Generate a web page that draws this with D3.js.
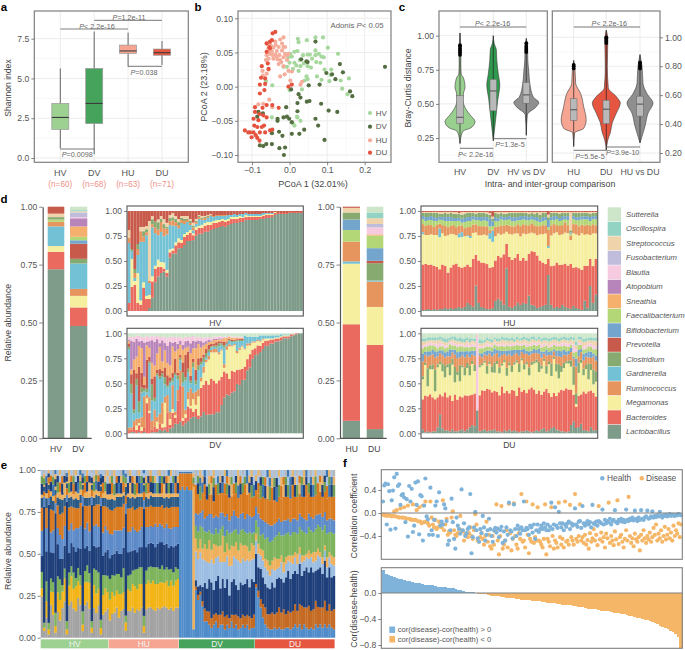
<!DOCTYPE html>
<html><head><meta charset="utf-8"><script src="https://cdn.jsdelivr.net/npm/d3@7"></script>
<style>html,body{margin:0;padding:0;background:#fff}svg{display:block}</style></head><body>
<script>
// ---------- panel a
const alphaCats=["HV","DV","HU","DU"];
const alphaN=["(n=60)","(n=68)","(n=63)","(n=71)"];
const alphaLow=[0.6,0.23,5.75,5.85];
const alphaQ1=[1.8,2.16,6.58,6.46];
const alphaMed=[2.55,3.43,6.73,6.62];
const alphaQ3=[3.43,5.63,7.1,6.85];
const alphaHigh=[5.63,7.95,7.88,7.35];
const groupFill=["#9dd192","#46a35c","#f6a592","#e5553f"];
// ---------- panel b (PCoA x 1000)
const hvX=[22,24,46,69,89,102,129,21,13,2,6,-3,0,13,27,29,38,48,54,69,69,71,82,85,57,24,-7,-16,93,111,73,85,106,136,158,140,154,45,48,40,-63,-46,33,0,20,21,-47,9,13,29,18,48,78,91,36,60,109,9];
const hvY=[70,65,68,72,72,57,48,52,51,48,44,43,35,35,39,30,34,47,47,53,46,36,35,44,28,23,29,29,25,25,15,10,8,9,12,-3,-11,15,11,9,8,2,-4,-5,-44,-45,-45,-54,-57,-50,31,30,48,43,46,41,17,26];
const dvX=[69,48,45,31,134,98,113,142,122,254,80,51,4,161,167,29,21,46,53,84,-9,21,104,127,69,76,-16,-1,-32,-32,39,26,6,-28,-47,-19,93,-62,-79,-70,-47,-27,-12,-15,-83,-71,-86,-7,24,6];
const dvY=[66,36,37,40,33,20,18,21,11,29,3,2,-4,-7,-14,-16,-24,-22,-21,-25,-30,-36,-35,-37,-47,-57,-45,-47,-47,-50,-63,-69,-69,-66,-68,-72,-78,-84,-86,-87,-84,-90,-89,-100,-37,-39,-44,-44,-11,-52];
const huX=[-16,-25,-38,-52,-61,-20,-29,-43,-56,-47,-34,-20,-12,-52,-38,-27,-16,-56,-43,-32,-22,-7,-29,-16,-3,6,-13,-25,-56,-72,-71,-61,-54,-47,-63,-37,-25,29,-70,-54,-46,33,2,-83,-45,-34,-12,-3,-7,-61,-16];
const huY=[72,69,66,62,64,63,58,57,56,51,52,53,48,48,47,46,43,41,41,40,36,39,33,30,23,22,18,15,25,23,16,19,53,58,39,61,39,3,-25,-19,-30,7,9,-26,46,44,58,48,46,46,58];
const duX=[-38,-45,-47,-61,-52,-61,-74,-56,-76,-65,-79,-65,-79,-67,6,-3,-92,-72,-61,-46,-29,-92,-80,-96,-83,-70,-61,-94,-86,-68,-52,-46,-119,-105,-96,-90,-101,-86,-80,-74,-65,-79,-110,-54,-52,-58];
const duY=[80,78,68,63,56,51,30,26,13,12,3,4,-10,-5,3,0,-30,-31,-27,-27,-31,-37,-40,-47,-49,-42,-45,-57,-59,-57,-64,-63,-64,-67,-67,-71,-74,-75,-79,-59,-67,-67,-67,58,66,34];
// ---------- panel c: [distance, density]
const violinHV=[[.21,0],[.24,.5],[.30,3],[.325,11],[.37,15],[.42,10],[.46,6],[.53,3],[.58,3.5],[.62,5],[.69,3.5],[.72,1.2],[.8,.8],[.88,1],[.95,.6],[1.02,0]];
const violinDV=[[.23,0],[.33,1.5],[.43,3],[.53,4.5],[.64,6.5],[.72,5],[.82,3.5],[.9,3],[.94,1],[1.0,0]];
const violinHVDV=[[.27,0],[.42,1],[.48,10],[.51,12.5],[.55,7],[.65,3.5],[.735,2.5],[.82,1.5],[.9,1.3],[.98,0]];
const violinHU=[[.245,0],[.34,1],[.37,10],[.43,12.5],[.52,10],[.61,7],[.68,2],[.775,1.3],[.84,0]];
const violinDU=[[.22,0],[.29,1.5],[.34,4],[.41,6],[.475,10],[.545,14],[.59,10],[.65,2],[.8,1],[.98,1.5],[1.05,0]];
const violinHUDU=[[.27,0],[.315,2],[.385,5],[.475,8],[.545,13],[.61,7],[.68,3],[.8,2],[.88,0]];
const boxHV=[.358,.402,.561], boxDV=[.449,.595,.68], boxHVDV=[.505,.566,.658];
const boxHU=[.425,.499,.575], boxDU=[.402,.503,.565], boxHUDU=[.455,.538,.593];
const outHV=[.86,.875,.89,.905,.92,.93], outHVDV=[.88,.895,.91,.925,.945];
const outHU=[.785,.80,.81], outDU=[.96,.975,.99,1.0], outHUDU=[.785,.80,.815,.825];
// ---------- panel d
const genera=["Sutterella","Oscillospira","Streptococcus","Fusobacterium","Blautia","Atopobium","Sneathia","Faecalibacterium","Bifidobacterium","Prevotella","Clostridium","Gardnerella","Ruminococcus","Megamonas","Bacteroides","Lactobacillus"];
const generaColor=["#cde6ca","#93d3c3","#efd3ab","#bfbcdc","#f7cbdf","#b885ba","#f5b06e","#b3d676","#74a5cc","#c85a4b","#86aa70","#72c1d4","#e6955f","#f5ef9f","#ea6a5f","#7f9c8a"];
const meanHVKeys=["Lactobacillus","Bacteroides","Megamonas","Gardnerella","Ruminococcus","Faecalibacterium","Clostridium","Streptococcus","Prevotella"];
const meanHV=[73,7.5,2.5,8.5,2,1,1,1.5,3];
const meanDVKeys=["Lactobacillus","Bacteroides","Megamonas","Ruminococcus","Gardnerella","Clostridium","Prevotella","Bifidobacterium","Faecalibacterium","Sneathia","Atopobium","Blautia","Fusobacterium","Streptococcus","Oscillospira","Sutterella"];
const meanDV=[48.5,8,5,3,11,2,6.5,1.5,1.5,4.5,3.5,.5,2,.5,.5,1.5];
const meanHUKeys=["Lactobacillus","Bacteroides","Megamonas","Gardnerella","Ruminococcus","Faecalibacterium","Bifidobacterium","Clostridium","Streptococcus","Prevotella"];
const meanHU=[7.5,41.5,26,1,8.5,5,4.5,3,2,.5];
const meanDUKeys=["Lactobacillus","Bacteroides","Megamonas","Ruminococcus","Gardnerella","Clostridium","Prevotella","Bifidobacterium","Faecalibacterium","Sneathia","Blautia","Fusobacterium","Streptococcus","Oscillospira","Sutterella"];
const meanDU=[4,36.5,16.5,11,.5,7.5,1,5.5,5.5,.5,3,1.5,2.5,2.5,2.5];
const hvLacto=[0,0,0,0,0,0,0,3,13,30,37,38,39,35,53,55,57,62,63,66,70,70,73,76,78,78,80,80,81,82,83,84,85,85,86,87,88,88,89,89,90,91,91,91,91,93,92,93,94,95,96,97,97,97,97,98,98,98,98,98];
const hvBact=[8,24,26,8,6,22,12,9,16,14,10,6,3,4,5,3,8,6,5,8,6,8,5,6,6,6,6,7,5,6,5,5,5,5,4,5,4,4,4,4,3,3,3,3,3,2,3,3,3,2,2,1,1,1,1,1,1,1,1,1];
const hvMega=[0,28,4,30,4,5,3,4,5,3,8,5,6,3,3,2,3,4,3,3,3,3,2,3,2,3,3,3,3,2,3,2,2,2,2,2,2,2,2,1,2,1,1,1,1,1,1,1,1,1,1];
const hvGard=[60,8,3,18,55,38,60,12,48,34,26,30,26,36,24,22,16,10,17,10,10,5,3,3,7,5,3,4,6,4,4,4,3,4,4,2,3,2,2,3,2,2,2,2,2,2,2,1,1,1];
const hvRumi=[5,0,5,6,10,5,3,2,3,6,6,10,8,6,4,5,4,3,3,3,2,2,3,2,2,1,2,1,1,1,1,1,1,1];
const hvClos=[0,2,4,5,0,5,3,0,5,6,8,3,4,2,3,3,3,3,2,2,1,2,2,1,1,1,1,1];
const hvStre=[8,0,0,0,4,4,3,60,3,0,3,3,5,4,3,4,3,3,2,3,3,2,3,2,1,2,1,1,1];
const hvPrev=[19,38,58,33,15,15,15,10,5,11,9,5,8,12,4,2,5,8,5,5,5,8,12,8,4,5,5,4,3,5,4,4,4,4,4,4,3,4,3,3,2,3,3,3,3,3,2,2,2,2,1,2,2,2,2,1,1,1,1,1];
const dvLacto=[0,1,1,0,1,0,1,0,0,1,1,1,3,2,3,1,4,5,8,7,9,6,9,10,12,13,12,12,13,14,14,15,16,17,19,21,28,30,33,35,37,39,42,44,48,50,56,60,64,68,72,78,80,83,85,87,88,89,90,92,93,94,95,96,98,99,100,100];
const dvBact=[2,2,4,3,6,2,3,25,18,2,5,3,5,3,2,16,3,12,5,18,28,4,5,12,8,4,6,3,22,18,26,24,30,30,26,32,28,22,18,15,20,18,12,14,10,12,10,12,8,6,8,6,6,5,5,4,4,3,3,3,2,2,2,2,1,1];
const dvMega=[0,0,0,4,2,3,0,4,2,0,0,6,0,3,20,0,5,3,2,0,0,2,3,6,2,10,3,16,5,8,14,20,22,25,28,26,26,3,20,30,22,25,14,18,20,16,12,8,6,5,4,4,3,2,2,1,1,1,1,1,1,1,1];
const dvRumi=[3,2,5,6,4,8,24,3,12,8,16,4,8,18,5,14,6,20,3,8,12,25,4,6,14,5,10,6,3,4,2,3,2,3,3,2,1,3,3,2,1,1,2,2,1,1,2,2,1,1,1,1,1];
const dvGard=[70,28,6,30,5,20,4,2,30,18,8,35,28,22,10,6,24,3,30,8,8,3,26,16,4,20,5,16,10,3,2,3,2,2,1,6,4,14,2,3,3,2,8,6,4,12,6,6,4,4,3,5,3,3,3,3,3,2,2,2,1,1,1];
const dvClos=[2,8,3,6,10,4,2,3,2,14,3,2,2,3,6,2,2,3,2,3,2,8,3,3,2,4,3,4,2,3,3,2,1,1,2,3,2,2,1,1,1,1,1,1,1];
const dvPrev=[3,8,32,5,30,12,3,24,4,5,20,3,6,2,8,8,3,4,12,2,2,8,20,14,4,3,8,6,3,2,3,4,2,2,3,2,2,3,1,1,1,1,1,1,1];
const dvSnea=[2,4,8,15,18,20,6,12,8,14,10,14,18,8,14,10,10,22,6,18,8,10,6,4,18,8,16,12,8,6,4,2,2,3,2,2,2,3,3,2,2,2,1,1,1];
const dvAtop=[1,24,14,16,4,6,26,3,6,20,22,12,3,18,6,14,20,3,8,4,3,4,6,5,8,6,5,3,5,2,2,2,1,1,1,1,1];
const dvBlau=[3,3,4,3,5,3,4,5,4,4,5,3,5,3,5,6,4,5,4,5,3,5,4,3,5,4,3,3,3,3,3,2,2,2,2,2,2,1,1,1,1,1,1,1,1];
const dvSutt=[3,3,3,2,2,3,3,2,3,2,3,2,3,3,3,4,3,3,3,3,3,4,3,3,3,2,3,3,3,3,3,3,4,3,3,3,3,3,3,2,3,3,3,3,3,2,3,3,3,3,3,2,2,2,2,2,2,2,2,1,1,1,1,1,1];
const huLacto=[1,1,2,1,2,1,2,2,3,2,3,2,3,4,3,4,8,6,4,25,8,4,3,2,2,3,10,12,10,6,43,4,3,5,8,6,8,7,15,6,5,3,4,5,6,40,6,3,4,3,6,4,3,2,5,3,2,1,10,3,25,8,16];
const huBact=[45,46,44,45,43,43,41,44,42,36,41,44,44,41,42,40,38,38,46,30,42,44,44,44,43,44,40,42,42,49,25,48,47,47,48,44,44,43,41,52,53,52,46,43,40,18,38,42,44,43,40,42,42,42,38,40,40,38,34,40,27,36,35];
const huMega=[30,29,30,30,31,32,33,31,30,37,34,30,28,30,32,30,28,29,25,22,25,27,28,28,30,27,24,22,22,20,12,22,25,24,20,24,24,26,20,18,18,20,26,28,30,12,30,32,30,30,30,30,32,22,34,32,32,35,30,30,24,32,25];
const huGard=[2,0,0,0,0,0,9,0,0,0,0,0,0,4,5,0,1,2,0,0,0,0,0,0,6,12,0,0,0,0,0,0,0,0,0,0,0,0,0,0,0,0,0,0,0,2];
const huRumi=[8,9,10,9,8,10,5,8,10,8,8,9,8,8,7,8,8,9,8,8,9,9,8,9,3,1,9,7,9,8,7,8,8,7,9,10,9,9,8,9,8,9,8,9,8,18,10,9,7,9,9,10,8,4,9,10,9,8,9,9,9,9,8];
const huFaec=[5,5,5,5,6,4,4,5,5,6,5,4,6,5,3,6,6,6,5,4,6,5,6,5,4,4,6,5,6,5,5,6,5,5,4,6,5,5,5,4,5,5,4,4,5,3,5,4,6,5,5,3,5,2,5,4,6,5,6,5,5,5,6];
const huBifi=[3,4,3,4,4,3,3,3,4,4,4,3,3,3,4,4,4,4,3,3,3,4,3,4,8,5,4,3,3,3,3,3,4,4,3,4,3,4,3,3,3,4,3,4,3,8,3,4,3,3,4,3,4,1,3,3,3,3,3,3,4,3,3];
const huClos=[3,4,4,3,4,5,3,3,4,3,4,4,4,4,4,4,4,4,3,3,4,4,4,3,4,3,4,4,3,3,3,3,4,4,4,3,3,3,3,3,3,4,4,4,4,3,4,3,3,4,3,3,3,2,3,4,4,3,3,3,3,3,3];
const huStre=[1,1,1,1,1,1,2,2,1,2,1,2,2,1,3,2,1,1,1,2,1,1,1,2,2,2,1,2,1,2,2,1,1,1,1,1,1,1,2,1,2,1,3,1,1,3,1,1,1,2,1,1,1,17,1,1,1,1,1,1,2,1,1];
const huPrev=[1,1,1,1,1,1,1,1,1,1,1,1,1,2,1,1,1,1,1,1,1,1,1,1,2,6,1,1,1,1,1,1,1,1,1,1,1,1,1,1,1,1,1,1,1,4,1,1,1,1,1,1,1,1,1,1,1,1,1,1,1,1,1];
const duLacto=[4,1,2,1,2,2,6,19,5,3,3,2,4,2,2,3,4,2,4,6,8,7,23,2,3,4,2,3,3,4,2,2,1,3,2,4,2,3,2,1,2,2,3,2,1,2,3,2,4,5,2,3,5,6,4,3,2,2,1,2,8,12,4,6,9,3,3,2,6,3,3];
const duBact=[30,36,35,38,34,32,30,20,32,38,33,36,28,36,32,34,32,36,34,32,30,32,0,36,40,38,42,40,38,38,40,36,44,36,40,36,42,38,34,44,38,40,36,42,44,40,35,40,34,36,42,36,30,32,34,38,42,40,44,40,34,26,16,30,28,36,36,40,36,35,32];
const duMega=[20,30,10,25,28,8,30,30,25,15,30,20,36,12,25,15,30,20,28,20,30,22,0,28,25,28,15,25,20,18,28,22,20,30,15,28,18,25,32,15,30,20,28,14,22,25,30,18,26,30,15,28,20,32,25,14,18,22,25,25,22,10,2,22,30,15,24,12,20,8,14];
const duClos=[3,2,18,4,5,22,3,3,8,12,3,12,6,15,3,16,2,8,5,10,3,6,0,2,2,2,8,2,6,10,3,6,2,2,8,3,6,2,2,8,2,5,2,8,3,2,3,10,3,2,8,3,12,2,8,14,6,5,2,3,6,18,8,10,3,6,4,16,6,14,10];
const duRumi=[15,8,12,10,10,12,8,8,8,8,8,7,6,12,14,8,10,10,8,8,6,9,0,10,6,6,10,8,10,8,8,10,8,6,12,8,10,8,7,8,6,10,8,12,8,8,6,8,8,5,10,6,8,5,8,8,9,8,6,6,8,8,20,6,7,8,8,6,6,12,10];
const duBifi=[8,3,5,4,5,6,5,3,5,5,5,7,3,5,6,6,4,6,4,6,4,5,0,2,4,3,5,3,5,6,3,7,4,3,5,4,6,4,3,6,2,5,3,4,3,4,3,5,6,2,6,3,4,2,5,6,6,5,4,3,4,2,6,6,3,6,4,6,6,3,5];
const duFaec=[5,5,5,6,4,5,3,4,4,4,4,5,4,4,5,5,5,4,4,4,4,4,0,5,5,4,4,4,4,4,4,4,5,4,5,4,4,4,5,4,4,4,4,5,5,4,4,4,4,5,4,4,4,4,5,4,5,4,5,4,3,4,5,5,4,4,4,5,5,4,6];
const duBlau=[3,2,3,3,2,3,4,4,2,3,2,2,3,2,3,2,2,2,4,2,3,2,76,2,2,2,3,2,2,2,2,2,3,2,2,2,3,2,2,2,2,2,3,2,3,2,3,2,3,3,2,2,3,2,3,2,3,3,3,3,2,8,2,2,2,3,3,3,3,4,3];
const duStre=[4,3,3,2,3,3,4,3,3,3,3,2,3,3,3,3,2,3,3,3,3,3,0,3,3,3,3,3,3,3,3,3,3,4,3,3,3,2,3,3,3,3,3,3,3,3,2,3,3,3,3,4,3,3,3,3,3,3,3,3,3,4,3,3,3,4,4,3,3,4,5];
const duOsci=[3,3,3,3,3,3,3,3,4,4,4,3,3,4,3,4,4,4,3,4,2,3,0,4,3,3,3,3,3,2,3,3,3,3,3,3,3,3,3,2,3,3,3,3,3,3,2,3,3,3,3,3,3,3,3,3,3,3,3,3,3,3,3,3,3,3,3,3,3,3,3];
const duSutt=[5,5,4,4,4,4,4,3,4,5,5,4,3,3,5,4,5,5,4,5,5,5,1,6,7,6,4,5,6,4,5,5,3,4,4,5,4,5,3,5,4,3,4,5,3,3,5,3,5,4,4,5,4,3,4,5,4,3,4,4,3,4,6,3,3,5,5,4,4,4,4];
// ---------- panel e
const taxaColor={grey:"#a3a3a3",amber:"#f2b416",green:"#7db35b",navy:"#1f3f7a",steel:"#5d8ac8",ltblue:"#9cbde2",orange:"#d97a1f",sand:"#eeb05a",base:"#4f8cc9",brown:"#c56a22",dark:"#2c5a86"};
const speckleColor=["#1f3f7a","#6f9e52","#e8b46a","#a9c4e3","#b8b8b8","#3f78b0","#d9781f"];
const eGroups=["HV","HU","DV","DU"];
const eHvGrey=[25,4,12,2,20,14,3,16,10,18,22,2,20,22,18,16,24,20,4,20,22,18,3,18,15,20,2,14,16,18];
const eHvAmber=[5,2,10,3,8,14,4,12,12,10,14,3,12,15,12,15,10,12,4,14,12,16,3,14,12,10,4,12,14,10];
const eHvGreen=[10,3,12,4,8,6,8,10,12,4,6,5,8,6,10,5,8,6,8,7,10,6,4,10,14,10,5,12,8,10];
const eHvNavy=[10,70,18,72,16,18,60,20,12,16,14,72,12,14,16,16,12,16,64,14,12,14,70,14,14,16,70,12,14,16];
const eHvSteel=[15,6,14,4,12,14,6,10,14,12,12,4,14,12,10,14,12,14,6,12,14,12,5,12,14,12,5,14,16,12];
const eHvOrange=[14,3,12,5,14,12,5,14,12,16,12,4,14,10,14,12,12,14,4,14,10,16,4,12,12,14,4,16,12,14];
const eHvDark=[6,3,6,3,8,6,3,5,9,8,5,3,6,6,5,6,5,5,3,5,5,5,3,5,6,5,3,5,5,5];
const eHvSand=[2,1,3,1,3,3,2,3,4,3,3,1,3,3,3,4,4,3,1,3,4,3,1,4,3,3,1,3,4,3];
const eHvMix=[15,9,14,8,13,16,10,14,13,15,14,7,14,13,15,13,14,12,8,14,13,14,8,13,12,13,9,14,13,15];
const eHuGrey=[10,14,15,18,12,16,17,4,16,16,18,15,17,16,18,3,17,18,18,17,16,18,17,18,19,18,17,18,16,18,18];
const eHuAmber=[12,13,10,10,14,10,10,5,13,12,14,16,12,16,14,4,15,16,14,17,16,14,16,15,14,16,14,16,15,16,17];
const eHuGreen=[12,10,12,10,12,10,14,4,8,10,8,10,12,10,10,6,8,8,10,8,10,10,8,10,8,8,10,7,8,8,6];
const eHuNavy=[12,12,13,14,12,14,12,60,14,14,12,12,10,12,12,64,14,14,14,14,12,14,16,14,15,14,13,14,15,13,15];
const eHuSteel=[14,12,14,12,14,14,12,6,12,12,14,12,12,10,12,5,12,10,10,10,14,10,11,10,10,12,12,10,12,11,10];
const eHuOrange=[14,14,13,14,14,14,14,5,14,14,12,12,14,14,12,5,12,12,12,12,10,12,10,12,12,10,12,13,12,12,12];
const eHuDark=[6,7,5,6,6,6,5,5,7,6,6,7,7,6,6,4,6,5,6,6,6,6,6,5,6,6,6,6,6,6,6];
const eHuSand=[3,3,3,2,2,2,2,2,2,3,2,2,2,2,2,1,2,3,2,2,2,2,2,2,2,2,3,2,2,2,2];
const eHuMix=[14,14,15,14,14,14,13,8,14,14,14,15,14,14,14,8,14,14,13,14,14,14,14,14,15,14,14,14,14,14,14];
const eDvBase=[88,90,88,90,88,88,5,30,22,26,18,10,10,8,6,8,10,6,8,8,5,8,6,10,6,8,5,6,8,6,8,5,6,6];
const eDvBrown=[0,0,0,0,0,0,0,2,3,2,3,8,6,8,6,6,5,8,6,8,8,6,6,4,8,6,8,6,6,7,6,8,6,8];
const eDvNavy=[0,0,0,0,0,0,0,4,5,4,8,16,14,20,22,15,20,24,16,20,18,22,14,20,22,18,16,22,18,20,22,18,24,20];
const eDvLtblue=[0,0,0,0,0,0,0,18,16,20,16,14,16,10,14,16,14,12,16,10,16,14,18,10,14,16,18,12,16,14,12,16,12,14];
const eDvSand=[0,0,0,0,0,0,85,8,6,8,6,10,8,14,6,12,8,6,10,16,6,8,10,12,6,10,6,12,8,10,8,6,10,8];
const eDvGreen=[0,0,0,0,0,0,0,8,10,8,12,8,10,6,10,6,10,8,10,6,10,8,10,8,10,8,10,8,10,8,8,12,6,8];
const eDvSteel=[0,0,0,0,0,0,0,8,10,8,10,8,10,10,12,10,8,10,10,8,12,10,8,10,12,8,10,10,10,8,12,10,10,10];
const eDvOrange=[10,8,10,8,10,10,2,10,12,8,10,14,10,12,12,10,12,14,12,12,14,12,14,12,10,14,12,12,12,14,12,14,12,12];
const eDvMix=[2,2,2,2,2,2,8,17,14,18,13,16,18,15,15,19,16,15,14,14,15,15,17,16,15,14,17,15,14,16,15,14,17,16];
const eDuBase=[30,24,18,12,8,6,5,5,6,5,6,5,5,6,6,5,6,8,6,8,5,8,6,5,6,5,8,6,8,6,8,6,8,6,5];
const eDuBrown=[2,4,5,8,10,8,9,10,8,10,12,10,12,8,10,10,10,12,10,12,14,10,12,14,10,12,14,12,10,12,14,10,12,10,12];
const eDuNavy=[18,14,18,16,14,16,15,18,16,20,18,20,16,22,24,20,22,20,22,24,18,22,24,20,26,22,18,22,24,20,24,20,22,20,20];
const eDuLtblue=[8,8,8,10,10,10,8,8,10,6,6,10,6,8,6,10,6,8,6,6,8,6,6,8,6,6,6,8,6,6,6,6,6,8,6];
const eDuSand=[4,6,4,6,5,6,6,5,8,6,5,4,6,4,3,4,5,3,6,4,4,3,2,5,2,6,5,4,3,4,3,6,3,5,5];
const eDuGreen=[8,10,8,10,12,14,14,12,12,14,16,12,16,14,14,12,14,12,12,12,15,14,12,14,14,12,14,14,15,16,12,14,12,14,14];
const eDuSteel=[8,8,10,8,10,8,10,9,8,8,8,8,9,8,8,8,8,8,8,8,8,8,8,8,8,8,8,6,8,8,8,8,8,8,8];
const eDuOrange=[10,12,12,14,14,15,15,14,14,12,13,14,14,14,13,14,13,13,14,12,12,13,14,12,12,13,12,12,13,12,12,13,13,13,14];
const eDuMix=[12,14,17,16,17,17,18,19,18,19,16,17,16,16,16,17,16,16,16,14,16,16,16,14,16,16,15,14,13,16,13,17,16,16,16];
// top of each column in panel e: three short segments, indices into speckleColor
const eSpeckA=[0,1,0,6,0,5,0,1,6,0,2,0,1,0,6,0,5,1,0,6,0,2,0,1,5,0,0,6,1,0, 0,6,1,0,5,0,6,1,0,2,0,1,6,0,5,0,1,6,0,0,5,1,0,6,2,0,1,0,5,6,0, 5,5,5,5,5,5,1,6,0,1,5,6,0,1,2,0,6,1,0,5,6,1,0,2,6,1,5,0,1,6,2,0,1,5, 0,6,1,5,0,2,1,6,0,5,1,6,2,0,1,5,6,0,1,2,5,0,6,1,0,5,1,6,2,0,1,6,5,0,1];
const eSpeckB=[1,2,5,0,6,1,2,0,3,6,0,5,2,6,1,3,0,2,5,1,6,0,3,2,1,6,5,0,2,3, 2,1,3,6,0,2,1,5,3,0,6,2,0,5,1,3,2,0,6,1,2,3,5,1,0,6,2,3,1,0,2, 3,3,3,3,3,3,2,3,1,5,2,0,3,2,6,1,3,5,2,0,3,6,2,1,3,0,2,6,3,1,5,2,0,3, 2,3,0,1,6,3,5,2,1,0,3,2,6,1,3,5,0,2,3,6,1,2,0,3,5,2,1,3,6,2,0,3,1,5,2];
const eSpeckC=[3,4,3,2,3,4,5,3,2,3,4,3,2,3,4,2,3,5,4,3,2,3,4,3,2,4,3,3,4,2, 3,4,2,3,3,4,5,3,4,2,3,3,4,2,3,5,3,4,2,3,3,4,2,3,4,3,5,2,3,4,3, 3,3,3,3,3,3,3,4,3,2,3,5,3,4,3,2,3,3,4,3,2,5,3,4,3,3,2,3,4,3,5,3,2,3, 3,2,4,3,3,5,2,3,4,3,2,3,3,4,5,3,2,3,4,3,3,2,5,3,4,3,2,3,3,4,3,5,2,3,4];
// ---------- panel f (correlation x 100)
const corHealth=[20,48,51,-20,50,38,-29,22,39,62,-27,68,47,50,14,31,33,27,-16,24,-41,47,20,42,-33,-22,53,14,55,-37,31,29,-48,13,60,-6,-11,-38,44,-30,-38,-12,13,20,-40,36,-22,-15,-20,15,8,-14,-55,-48,-30,25,-16,-45,-62,-8,-22,-28,-36,41,-30,-18,-40,-35,-28,-25,33,-70,-42,-25,2,-30,-44,-50,-28,-35,-5,-25,-48,-38,-30,-10,-28,-40,-50,-30,-26,-34,-27,-42,-30,-24,-52,-32,-48,-25,-38,18,-30,-32,-44,15,-28,-40,-22,-28,-36,-25,-30,20,-30,-26,-28,-38,-22,-25,-34,-20,-45,-30,-20,-33,-28,-22,-28,-18,-25,-30,-20,-30,-24,18,-28,-20,10,-22,-26,2,-18,-25,-18,-30,-20,-24,-18,-15,-28,-18,-22,-20,8,-20,-24,-15,-14,-26,12,-18,-22,-18,-14,-20,-16,-25,14,-18,-20,-15,-22,-14,-16,-18,6,-20,-12,-18,-14,-16,-10,-20,-14,-12,5,-16,-18,-12,-14,-10,-15,-12,-16,6,-12,-14,-10,-12,-8,-13,4,-10,-14,-8,-12,5,-10,-12,-8,-6,4,-10,-9,-6,3,-8,-5,-7,-4,-6,2,-5,-8,-4,-5,-3,-6,-4,-2,-5,-3,-4,-5,-3,-4,-2,-3,-4];
const corDisease=[-3,-4,-3,-5,-4,-4,-5,-6,-5,3,-6,5,-7,-8,8,-8,-8,10,-9,-10,13,-10,-11,-12,15,-12,-12,5,-14,10,-15,-18,13,-16,20,-15,-18,-22,20,-8,-20,-25,-12,-28,-25,-15,-18,-25,22,-30,-20,-10,-38,-32,-34,-8,3,-30,-38,-40,-35,-28,-5,-30,-32,-48,-38,-36,-42,-35,-25,-40,-45,-30,-2,-20,-48,-50,-42,-35,-45,-55,-40,-15,-50,-38,-58,-62,-40,-55,-32,15,-48,-72,-40,12,-62,-55,-48,-30,-60,16,-35,-65,-45,17,-40,-55,-62,-35,-45,33,-50,-48,-60,20,-38,-70,-45,-50,15,-52,-42,-48,10,-48,-50,-55,-60,-45,15,-72,-45,-50,-58,10,-40,-62,-48,-52,-60,18,-42,-55,-45,-60,20,-50,-48,-55,14,-42,-48,-55,33,-45,-50,-40,15,-48,-42,-52,-38,-55,-47,-62,-35,-50,-44,-28,-48,-38,-56,12,-46,-34,-50,-42,-60,-36,-44,18,-52,-40,-48,-56,-32,-46,22,-54,-42,-38,-50,-60,-45,-30,-48,28,-40,-52,-44,-58,-36,-46,-50,-42,-65,-38,-48,-30,-44,-52,-40,-46,-34,-50,-42,-26,-38,-20,-48,-36,-44,-30,-50,-40,-24,-46,-38,-28,-44,-34,-48,-22,-40,-30,-36,-18,-42,-20];
const corDiff=[35,30,27,26,24,23,22,21,20,19,18,17,16,15,15,14,13,13,12,12,11,10,10,9,9,8,8,7,6,5,4,3,2,2,1,1,0,-1,-1,-2,-2,-3,-4,-4,-5,-5,-6,-6,-7,-7,-8,-8,-9,-9,-10,-10,-11,-11,-12,-12,-13,-13,-14,-14,-15,-15,-16,-16,-17,-17,-18,-18,-19,-19,-20,-20,-21,-22,-22,-23,-24,-24,-25,-25,-26,-27,-27,-28,-28,-29,-30,-31,-31,-32,-33,-34,-35,-36,-37,-38,-39,-40,-41,-42,-43,-44,-46,-48,-50,-52,-54,-56,-58,-60,-63,-68,-85];

// ================= drawing
const FF='"Liberation Sans",Arial,sans-serif';
const svg=d3.select("body").append("svg").attr("width",685).attr("height",650).style("font-family",FF);
function txt(x,y,s,o={}){const t=svg.append("text").attr("x",x).attr("y",y).attr("font-size",o.size||8.6).attr("fill",o.fill||"#444").attr("text-anchor",o.anchor||"middle").attr("dominant-baseline","central").text(s);
 if(o.bold)t.attr("font-weight","bold"); if(o.italic)t.attr("font-style","italic"); if(o.rot)t.attr("transform",`rotate(${o.rot},${x},${y})`); return t;}
function pTxt(x,y,rest,o={}){const t=txt(x,y,"",{size:7.2,fill:"#666",...o});t.append("tspan").attr("font-style","italic").text("P");t.append("tspan").text(rest);return t;}
function hline(x1,x2,y,c="#555",w=.9){svg.append("line").attr("x1",x1).attr("x2",x2).attr("y1",y).attr("y2",y).attr("stroke",c).attr("stroke-width",w);}
function frame(x0,y0,x1,y1,c="#7f7f7f",w=1.2){svg.append("rect").attr("x",x0).attr("y",y0).attr("width",x1-x0).attr("height",y1-y0).attr("fill","none").attr("stroke",c).attr("stroke-width",w);}
function gridH(x0,x1,y,majors,minors){minors.forEach(v=>hline(x0,x1,y(v),"#f5f5f5",.7));majors.forEach(v=>hline(x0,x1,y(v),"#ececec",1));}
function gridV(y0,y1,xs){xs.forEach(x=>svg.append("line").attr("x1",x).attr("x2",x).attr("y1",y0).attr("y2",y1).attr("stroke","#ececec").attr("stroke-width",1));}
function styleAxis(g,keepDomain){g.selectAll("text").attr("fill","#555").attr("font-size",8.6).attr("font-family",FF);g.selectAll(".tick line").attr("stroke","#666").attr("stroke-width",.8);
 if(!keepDomain)g.select(".domain").remove();else g.select(".domain").attr("stroke","#555").attr("stroke-width",1.2);}
function axL(x,scale,ticks,fmt,keep,size=3){const g=svg.append("g").attr("transform",`translate(${x},0)`).call(d3.axisLeft(scale).tickValues(ticks).tickFormat(d3.format(fmt)).tickSize(size).tickPadding(2).tickSizeOuter(0));styleAxis(g,keep);return g;}

// letters
[["a",4,7],["b",198,7],["c",402,7],["d",4,199],["e",4,465],["f",345,463]].forEach(d=>txt(d[1],d[2],d[0],{size:11.5,bold:true,fill:"#000"}));

// ---- a
const ax=d3.scalePoint(alphaCats,[60.3,162]), ay=d3.scaleLinear([0,7.5],[158,38.7]);
gridH(34.3,188.3,ay,[0,2.5,5,7.5],[1.25,3.75,6.25]);gridV(11,162.3,alphaCats.map(ax));
alphaCats.forEach((c,i)=>{const x=ax(c);
 svg.append("line").attr("x1",x).attr("x2",x).attr("y1",ay(alphaLow[i])).attr("y2",ay(alphaHigh[i])).attr("stroke","#666").attr("stroke-width",1);
 svg.append("rect").attr("x",x-8.5).attr("width",17).attr("y",ay(alphaQ3[i])).attr("height",ay(alphaQ1[i])-ay(alphaQ3[i])).attr("fill",groupFill[i]).attr("stroke","#9a9a9a").attr("stroke-width",.7);
 hline(x-8.5,x+8.5,ay(alphaMed[i]),"#3c3c3c",1.1);
 txt(x,172.7,c,{size:9,fill:"#555"});txt(x,184,alphaN[i],{size:8.2,fill:"#ee9088"});});
frame(34.3,11,188.3,162.3);
axL(34.3,ay,[0,2.5,5,7.5],".1f");
txt(8.3,88,"Shannon index",{rot:-90});
hline(60.3,128,29,"#aaa",1.3);pTxt(97,25.5,"< 2.2e-16");
hline(94.3,162,20.3,"#666",.9);pTxt(129,16.7,"=1.2e-11");
hline(128,162,66.3,"#666",.9);pTxt(144,72,"=0.038");
hline(60.3,94.3,149,"#666",.9);pTxt(77.3,154.3,"=0.0098");

// ---- b
const bx=d3.scaleLinear([-.1,.2],[252,364.7]), by=d3.scaleLinear([-.1,.1],[155,18.3]);
gridH(238,391,by,[-.1,-.05,0,.05,.1],[-.075,-.025,.025,.075]);gridV(11,162.3,[-.1,0,.1,.2].map(bx));
[-.05,.05,.15].forEach(v=>svg.append("line").attr("x1",bx(v)).attr("x2",bx(v)).attr("y1",11).attr("y2",162.3).attr("stroke","#f5f5f5").attr("stroke-width",.7));
const pcoaGroups=[[hvX,hvY,"#a6d89e"],[dvX,dvY,"#546e41"],[huX,huY,"#f5ad9b"],[duX,duY,"#e5533f"]];
pcoaGroups.forEach(g=>svg.append("g").selectAll("circle").data(g[0]).join("circle").attr("cx",d=>bx(d/1000)).attr("cy",(d,i)=>by(g[1][i]/1000)).attr("r",2.1).attr("fill",g[2]));
frame(238,11,391,162.3);
const bxAxis=svg.append("g").attr("transform","translate(0,162.3)").call(d3.axisBottom(bx).tickValues([-.1,0,.1,.2]).tickFormat(d3.format(".1f")).tickSize(3).tickPadding(2));styleAxis(bxAxis);
axL(238,by,[-.1,-.05,0,.05,.1],".2f");
txt(313,184,"PCoA 1 (32.01%)",{size:9});txt(204,87,"PCoA 2 (23.18%)",{size:9,rot:-90});
const adonis=txt(357,25,"Adonis ",{size:7.8,fill:"#666"});adonis.append("tspan").attr("font-style","italic").text("P");adonis.append("tspan").text("< 0.05");
alphaCats.forEach((c,i)=>{const y=[113,126.7,140.3,152.7][i];svg.append("circle").attr("cx",370).attr("cy",y).attr("r",2.1).attr("fill",pcoaGroups[i][2]);txt(375.7,y,c,{size:8,anchor:"start",fill:"#555"});});

// ---- c
const cyL=d3.scaleLinear([.25,1],[138,35.7]), cyR=d3.scaleLinear([.2,1],[153,37.3]), dens=d3.scaleLinear([0,15],[0,15]);
function violinPanel(x0,x1,y,majors,minors,items){
 gridH(x0,x1,y,majors,minors);gridV(11,162.3,items.map(d=>d.x));
 items.forEach(d=>{
  const area=d3.area().curve(d3.curveMonotoneY).y(p=>y(p[0])).x0(p=>d.x-dens(p[1])).x1(p=>d.x+dens(p[1]));
  svg.append("path").attr("d",area(d.v)).attr("fill",d.fill).attr("stroke","#3a3a3a").attr("stroke-width",.6);
  svg.append("line").attr("x1",d.x).attr("x2",d.x).attr("y1",y(d.v[0][0])).attr("y2",y(d.v[d.v.length-1][0])).attr("stroke","#222").attr("stroke-width",.7);
  (d.out||[]).forEach(o=>svg.append("circle").attr("cx",d.x).attr("cy",y(o)).attr("r",1.9).attr("fill","#000"));
  svg.append("rect").attr("x",d.x-3.3).attr("width",6.6).attr("y",y(d.b[2])).attr("height",y(d.b[0])-y(d.b[2])).attr("fill","#b9b9b9").attr("stroke","#666").attr("stroke-width",.5);
  hline(d.x-3.3,d.x+3.3,y(d.b[1]),"#333",.8);
  txt(d.x,172.4,d.t,{size:8.8,fill:"#555"});
 });
 frame(x0,11,x1,162.3);
}
violinPanel(439,547.3,cyL,[.25,.5,.75,1],[.375,.625,.875,.125],[
 {x:460,t:"HV",v:violinHV,b:boxHV,fill:"#9ad08f",out:outHV},{x:493.3,t:"DV",v:violinDV,b:boxDV,fill:"#2f9a4d"},{x:526.3,t:"HV vs DV",v:violinHVDV,b:boxHVDV,fill:"#8f8f8f",out:outHVDV}]);
violinPanel(552.3,660,cyR,[.2,.4,.6,.8,1],[.3,.5,.7,.9],[
 {x:573.7,t:"HU",v:violinHU,b:boxHU,fill:"#f6a592",out:outHU},{x:606.3,t:"DU",v:violinDU,b:boxDU,fill:"#e5553f",out:outDU},{x:640,t:"HU vs DU",v:violinHUDU,b:boxHUDU,fill:"#8f8f8f",out:outHUDU}]);
axL(439,cyL,[.25,.5,.75,1],".2f");
styleAxis(svg.append("g").attr("transform","translate(660,0)").call(d3.axisRight(cyR).tickValues([.2,.4,.6,.8,1]).tickFormat(d3.format(".2f")).tickSize(3).tickPadding(2)));
txt(408,88,"Bray-Curtis distance",{size:8.8,rot:-90});
txt(550,184,"Intra- and inter-group comparison",{size:8.8});
hline(460,526.3,27,"#666");pTxt(492.7,22.7,"< 2.2e-16");
hline(460,493.3,148.3,"#666");pTxt(475.7,153.7,"< 2.2e-16");
hline(493.3,526.3,138.7,"#666");pTxt(510,143.7,"=1.3e-5");
hline(573.7,640,27,"#666");pTxt(609.3,22.7,"< 2.2e-16");
hline(573.7,606.3,150.3,"#666");pTxt(590,155.7,"=5.5e-5");
hline(606.3,640,147,"#666");pTxt(622.7,151.7,"=3.9e-10");

// ---- d
const genusFill=d3.scaleOrdinal(genera,generaColor);
function stackedColumns(keys,arrays,xScale,yScale){
 const n=arrays[0].length;
 const table=d3.range(n).map(i=>{const r={i};keys.forEach((k,j)=>r[k]=arrays[j][i]||0);const s=d3.sum(keys,k=>r[k]);keys.forEach(k=>r[k]=r[k]/s);return r;});
 const layers=d3.stack().keys(keys)(table);
 layers.forEach(l=>svg.append("g").attr("fill",genusFill(l.key)).selectAll("rect").data(l).join("rect").attr("x",d=>xScale(d.data.i)).attr("width",xScale.bandwidth()).attr("y",d=>yScale(d[1])).attr("height",d=>Math.max(0,yScale(d[0])-yScale(d[1]))));
}
function meanBar(keys,vals,x,w,y){let c=0;const total=d3.sum(vals);keys.forEach((k,i)=>{const h=vals[i]/total;svg.append("rect").attr("x",x).attr("width",w).attr("y",y(c+h)).attr("height",y(c)-y(c+h)).attr("fill",genusFill(k));c+=h;});}
const dTicks=[0,.25,.5,.75,1];
const dy=d3.scaleLinear([0,1],[438.3,206.7]);
meanBar(meanHVKeys,meanHV,47.7,16.6,dy);meanBar(meanDVKeys,meanDV,70,17.3,dy);
meanBar(meanHUKeys,meanHU,342.7,17.3,dy);meanBar(meanDUKeys,meanDU,366.7,16.6,dy);
axL(42.7,dy,dTicks,".2f",true,3.5);axL(340,dy,dTicks,".2f",true,3.5);
hline(42.7,91.7,438.3,"#555",1.2);hline(340,386.7,438.3,"#555",1.2);
txt(56,449,"HV");txt(78.3,449,"DV");txt(351.7,449,"HU");txt(374.3,449,"DU");
txt(8.3,322.7,"Relative abundance",{size:8.8,rot:-90});
function samplePanel(x0,x1,top,keys,arrays,label){
 const bot=top+110,y=d3.scaleLinear([0,1],[bot-5,top+5]);
 const x=d3.scaleBand(d3.range(arrays[0].length),[x0+.5,x1-.5]).padding(.015);
 stackedColumns(keys,arrays,x,y);
 frame(x0,top,x1,bot,"#555",1.1);
 axL(x0,y,dTicks,".2f");
 txt((x0+x1)/2,bot+6.5,label,{size:8.6});
}
samplePanel(127,303.3,206,meanHVKeys.filter(k=>k!="Faecalibacterium"),[hvLacto,hvBact,hvMega,hvGard,hvRumi,hvClos,hvStre,hvPrev],"HV");
samplePanel(127,303.3,328.3,["Lactobacillus","Bacteroides","Megamonas","Ruminococcus","Gardnerella","Clostridium","Prevotella","Sneathia","Atopobium","Blautia","Sutterella"],[dvLacto,dvBact,dvMega,dvRumi,dvGard,dvClos,dvPrev,dvSnea,dvAtop,dvBlau,dvSutt],"DV");
samplePanel(421,597.7,206,meanHUKeys,[huLacto,huBact,huMega,huGard,huRumi,huFaec,huBifi,huClos,huStre,huPrev],"HU");
samplePanel(421,597.7,328.3,["Lactobacillus","Bacteroides","Megamonas","Clostridium","Ruminococcus","Bifidobacterium","Faecalibacterium","Blautia","Streptococcus","Oscillospira","Sutterella"],[duLacto,duBact,duMega,duClos,duRumi,duBifi,duFaec,duBlau,duStre,duOsci,duSutt],"DU");
genera.forEach((g,i)=>{const y=214.3+i*14.5;svg.append("rect").attr("x",607.7).attr("y",y-7).attr("width",13.3).attr("height",14).attr("fill",generaColor[i]);txt(626,y,g,{size:7.7,italic:true,anchor:"start",fill:"#555"});});

// ---- e
const ey=d3.scaleLinear([0,1],[637.7,470]);
const eKeysH=["grey","amber","green","navy","steel","orange","dark","sand","mix"];
const eKeysD=["base","brown","navy","ltblue","sand","green","steel","orange","mix"];
let speckleAt=0;
function eBlock(x0,x1,keys,arrays){
 const n=arrays[0].length,x=d3.scaleBand(d3.range(n),[x0,x1]),off=speckleAt;speckleAt+=n;
 const table=d3.range(n).map(i=>{const r={i};keys.forEach((k,j)=>r[k]=arrays[j][i]);const s=d3.sum(keys,k=>r[k]);keys.forEach(k=>r[k]/=s);return r;});
 d3.stack().keys(keys)(table).forEach(l=>{
  if(l.key!="mix"){svg.append("g").attr("fill",taxaColor[l.key]).selectAll("rect").data(l).join("rect").attr("x",d=>x(d.data.i)).attr("width",x.bandwidth()+.2).attr("y",d=>ey(d[1])).attr("height",d=>Math.max(0,ey(d[0])-ey(d[1])));return;}
  l.forEach(d=>{const i=d.data.i,h=d[1]-d[0];
   [[eSpeckA,0,.45],[eSpeckB,.45,.75],[eSpeckC,.75,1]].forEach(p=>svg.append("rect").attr("x",x(i)).attr("width",x.bandwidth()+.2).attr("y",ey(d[0]+h*p[2])).attr("height",ey(d[0]+h*p[1])-ey(d[0]+h*p[2])).attr("fill",speckleColor[p[0][off+i]]));
  });
 });
}
eBlock(40.7,108.7,eKeysH,[eHvGrey,eHvAmber,eHvGreen,eHvNavy,eHvSteel,eHvOrange,eHvDark,eHvSand,eHvMix]);
eBlock(108.7,179,eKeysH,[eHuGrey,eHuAmber,eHuGreen,eHuNavy,eHuSteel,eHuOrange,eHuDark,eHuSand,eHuMix]);
eBlock(179,255,eKeysD,[eDvBase,eDvBrown,eDvNavy,eDvLtblue,eDvSand,eDvGreen,eDvSteel,eDvOrange,eDvMix]);
eBlock(255,335,eKeysD,[eDuBase,eDuBrown,eDuNavy,eDuLtblue,eDuSand,eDuGreen,eDuSteel,eDuOrange,eDuMix]);
axL(40.7,ey,dTicks,".2f");
txt(8.3,551,"Relative abundance",{size:8.8,rot:-90});
const stripX=[40.7,108.7,179,255,335],stripC=[groupFill[0],groupFill[2],groupFill[1],groupFill[3]];
eGroups.forEach((g,i)=>{svg.append("rect").attr("x",stripX[i]).attr("y",639.3).attr("width",stripX[i+1]-stripX[i]-.4).attr("height",9).attr("fill",stripC[i]);txt((stripX[i]+stripX[i+1])/2,644,g,{size:8.4,fill:"#f4f4f4"});});

// ---- f
const fx=d3.scaleLinear([0,corHealth.length-1],[383,681]), fy=d3.scaleLinear([-.4,.4],[536,490]);
svg.append("g").selectAll("circle").data(corDisease).join("circle").attr("cx",(d,i)=>fx(i)).attr("cy",d=>fy(d/100)).attr("r",2.1).attr("fill","#f5b767");
svg.append("g").selectAll("circle").data(corHealth).join("circle").attr("cx",(d,i)=>fx(i)).attr("cy",d=>fy(d/100)).attr("r",2.1).attr("fill","#7fb3d9");
hline(381.3,682.3,fy(0),"#808080",1.2);
frame(381.3,469.7,682.3,559.3,"#7f7f7f",1.1);
axL(381.3,fy,[-.4,0,.4],".1f");
svg.append("circle").attr("cx",602.3).attr("cy",478.3).attr("r",2.2).attr("fill","#7fb3d9");txt(607,478.3,"Health",{anchor:"start",size:8.4,fill:"#555"});
svg.append("circle").attr("cx",641.7).attr("cy",478.3).attr("r",2.2).attr("fill","#f5b767");txt(646,478.3,"Disease",{anchor:"start",size:8.4,fill:"#555"});
const gx=d3.scaleBand(d3.range(corDiff.length),[381.8,682]), gy=d3.scaleLinear([-.8,0],[645,593]);
svg.append("g").attr("shape-rendering","crispEdges").selectAll("rect").data(corDiff).join("rect").attr("x",(d,i)=>gx(i)).attr("width",gx.bandwidth()+1).attr("y",d=>gy(Math.max(0,d/100))).attr("height",d=>Math.abs(gy(d/100)-gy(0))).attr("fill",d=>d>0?"#7fb3d9":"#f5b767");
hline(381.3,682.3,gy(0),"#808080",1.2);
frame(381.3,567.7,682.3,648.3,"#7f7f7f",1.1);
axL(381.3,gy,[-.8,-.4,0],".1f");
txt(354,516,"Correlation coefficient",{size:8.8,rot:-90});
txt(354,609,"Cor(disease-health)",{size:8.8,rot:-90});
[["cor(disease)-cor(health) > 0","#7fb3d9",629.7],["cor(disease)-cor(health) < 0","#f5b767",639.3]].forEach(d=>{svg.append("rect").attr("x",389.3).attr("y",d[2]-3.2).attr("width",5.8).attr("height",6.4).attr("fill",d[1]);txt(397.7,d[2],d[0],{anchor:"start",size:7.6,fill:"#555"});});
</script></body></html>
